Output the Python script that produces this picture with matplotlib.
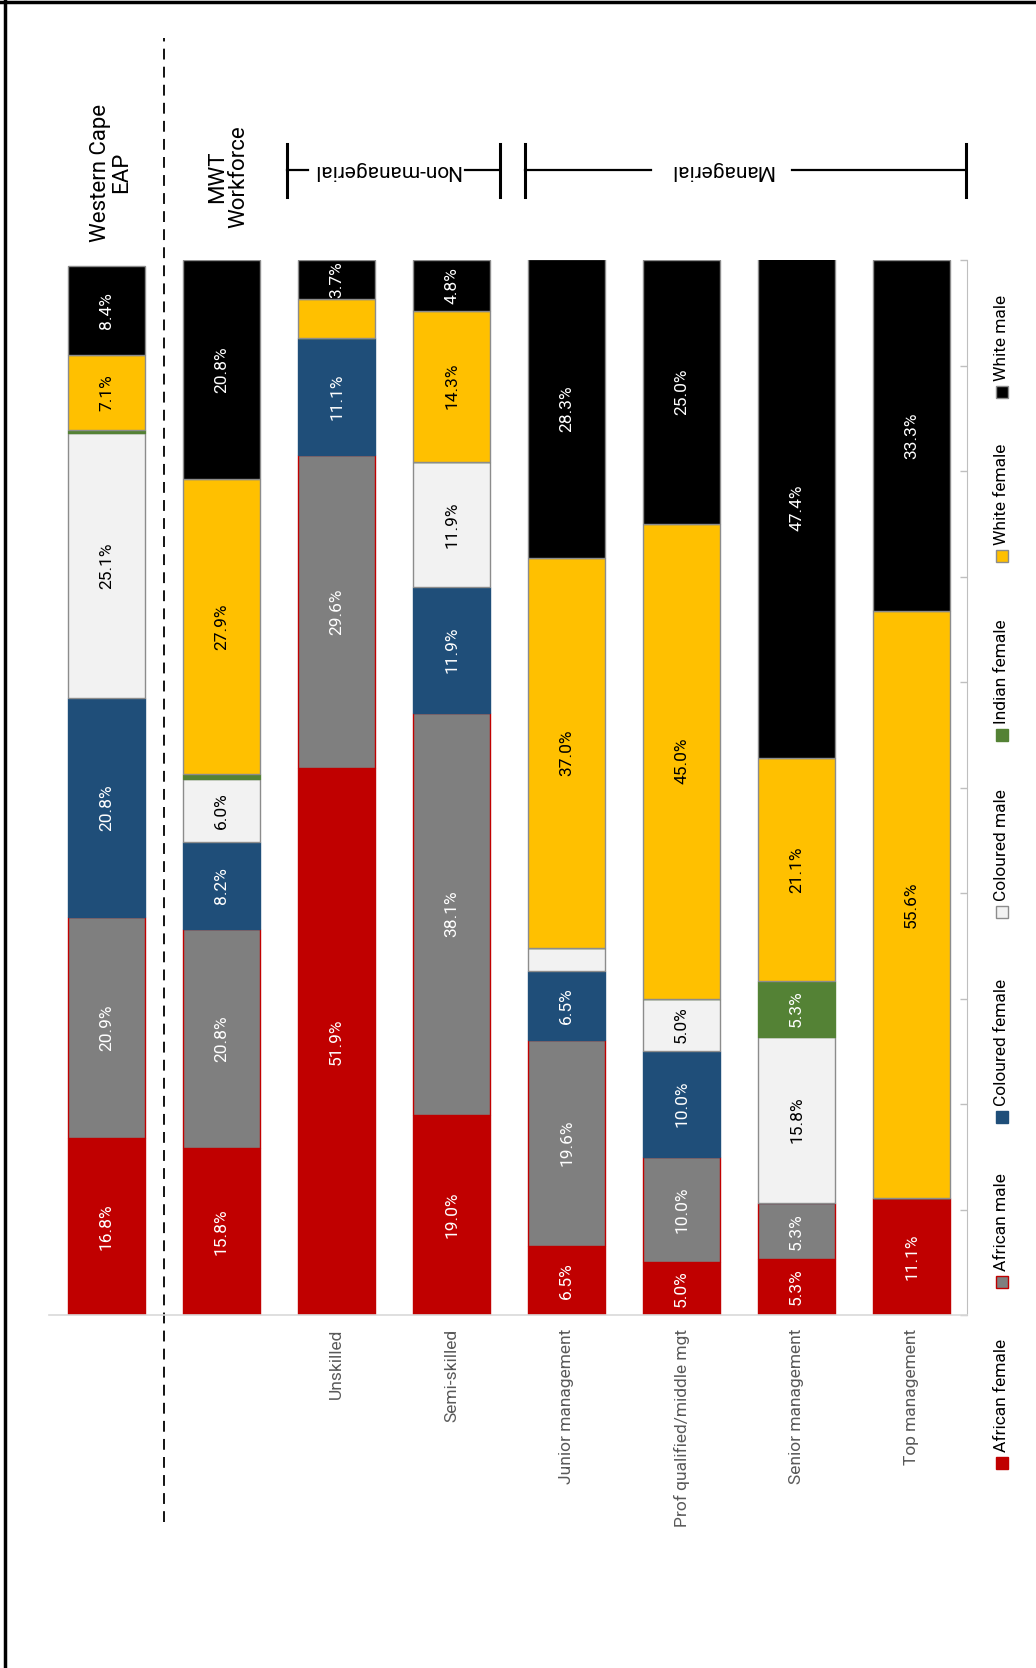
import numpy as np
import matplotlib
matplotlib.use("Agg")
import matplotlib.pyplot as plt
from matplotlib.lines import Line2D
from matplotlib.patches import Rectangle

plt.rcParams['font.family'] = ['Roboto', 'DejaVu Sans']

categories = ["", "", "Unskilled", "Semi-skilled", "Junior management",
              "Prof qualified/middle mgt", "Senior management", "Top management"]
groups = ["African female", "African male", "Coloured female", "Coloured male",
          "Indian female", "White female", "White male"]

african_female  = [16.8, 15.8, 51.9, 19.0, 6.5, 5.0, 5.3, 11.1]
african_male    = [20.9, 20.8, 29.6, 38.1, 19.6, 10.0, 5.3, 0.0]
coloured_female = [20.8, 8.2, 11.1, 11.9, 6.5, 10.0, 0.0, 0.0]
coloured_male   = [25.1, 6.0, 0.0, 11.9, 2.2, 5.0, 15.8, 0.0]
indian_female   = [0.3, 0.5, 0.0, 0.0, 0.0, 0.0, 5.3, 0.0]
white_female    = [7.1, 27.9, 3.7, 14.3, 37.0, 45.0, 21.1, 55.6]
white_male      = [8.4, 20.8, 3.7, 4.8, 28.3, 25.0, 47.4, 33.3]

series = [african_female, african_male, coloured_female, coloured_male,
          indian_female, white_female, white_male]

fills = ["#C00000", "#7F7F7F", "#1F4E79", "#F2F2F2", "#548235", "#FFC000", "#000000"]
edges = ["#C00000", "#C00000", "#1F4E79", "#8C8C8C", "#548235", "#8C8C8C", "#8C8C8C"]
label_colors = ["white", "white", "white", "black", "white", "black", "white"]
# segments left unlabelled: (series index, category index)
no_label = {(5, 2), (3, 4)}

fig = plt.figure(figsize=(10.36, 16.68), dpi=100)
ax = fig.add_axes([0.0473, 0.2116, 0.886, 0.6325])

x = np.arange(len(categories))
bottom = np.zeros(len(categories))
for i, vals in enumerate(series):
    vals = np.array(vals)
    ax.bar(x, vals, 0.67, bottom=bottom, color=fills[i], edgecolor=edges[i], linewidth=1.0)
    for j, v in enumerate(vals):
        if v >= 3 and (i, j) not in no_label:
            ax.text(x[j], bottom[j] + v / 2, f"{v:.1f}%", rotation=90, ha="center",
                    va="center", color=label_colors[i], fontsize=12.5)
    bottom += vals

ax.set_xlim(-0.5, 7.48)
ax.set_ylim(0, 100)
ax.set_xticks(x)
ax.set_xticklabels([])
ax.tick_params(axis="x", length=0)
for j, name in enumerate(categories):
    ax.text(x[j], -1.3, name, rotation=90, ha="center", va="top",
            color="#595959", fontsize=12.5)

ax.yaxis.tick_right()
ax.set_yticks(np.arange(0, 101, 10))
ax.set_yticklabels([])
ax.tick_params(axis="y", direction="in", length=5, color="#BFBFBF", width=1)
for s in ["top", "left"]:
    ax.spines[s].set_visible(False)
ax.spines["right"].set_color("#BFBFBF")
ax.spines["bottom"].set_color("#D9D9D9")
ax.spines["bottom"].set_linewidth(1.2)

# dashed separator between the provincial EAP and the company bars
ax.plot([0.5, 0.5], [-19.6, 121.0], ls=(0, (6, 4)), color="black", lw=1.3, clip_on=False)

# column headers
ax.text(0.04, 108.3, "Western Cape\nEAP", rotation=90, ha="center", va="center",
        fontsize=16, linespacing=1.0)
ax.text(1.06, 107.9, "MWT\nWorkforce", rotation=90, ha="center", va="center",
        fontsize=16, linespacing=1.0)

# group brackets
def bracket(x0, x1, gap0, gap1, label):
    yb = 108.5
    ax.plot([x0, x0], [106.0, 111.0], color="black", lw=2.2, clip_on=False)
    ax.plot([x1, x1], [106.0, 111.0], color="black", lw=2.2, clip_on=False)
    ax.plot([x0, gap0], [yb, yb], color="black", lw=1.6, clip_on=False)
    ax.plot([gap1, x1], [yb, yb], color="black", lw=1.6, clip_on=False)
    ax.text((gap0 + gap1) / 2, yb, label, rotation=180, ha="center", va="center",
            fontsize=15)

bracket(1.57, 3.42, 1.75, 3.12, "Non-managerial")
bracket(3.64, 7.47, 4.73, 5.96, "Managerial")

# legend, written sideways along the right edge
W, H = 1036.0, 1668.0
leg_marker_y = [1463, 1282, 1117, 912, 735, 556, 392]
leg_edges = ["#C00000", "#C00000", "#1F4E79", "#8C8C8C", "#548235", "#8C8C8C", "#8C8C8C"]
for name, my, fc, ec in zip(groups, leg_marker_y, fills, leg_edges):
    fig.patches.append(Rectangle(((1002 - 6) / W, 1 - (my + 6) / H), 12 / W, 12 / H,
                                 transform=fig.transFigure, facecolor=fc,
                                 edgecolor=ec, linewidth=1.0))
    fig.text(1002 / W, 1 - (my - 11) / H, name, rotation=90, ha="center", va="bottom",
             fontsize=12.5, color="black")

# page frame on the left and top
fig.add_artist(Line2D([5 / W, 5 / W], [0, 1], color="black", lw=2.5))
fig.add_artist(Line2D([0, 1], [1 - 2 / H, 1 - 2 / H], color="black", lw=2.5))

fig.savefig("out.png", dpi=100, facecolor="white")
